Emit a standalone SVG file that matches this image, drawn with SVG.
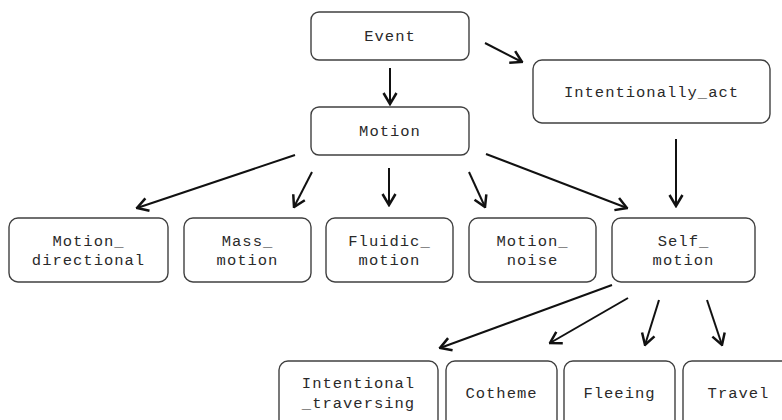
<svg xmlns="http://www.w3.org/2000/svg" width="782" height="420" viewBox="0 0 782 420">
  <defs>
    <style>
      .box { fill: #ffffff; stroke: #404040; stroke-width: 1.4; }
      .lbl { font-family: "Liberation Mono", "Courier New", monospace; font-size: 15.5px; letter-spacing: 1px; fill: #2a2a2a; text-anchor: middle; }
      .edge { fill: none; stroke: #111; stroke-width: 2; marker-end: url(#arrow); }
    </style>
    <marker id="arrow" viewBox="0 0 14 16" refX="12.5" refY="8" markerWidth="14" markerHeight="16" markerUnits="userSpaceOnUse" orient="auto">
      <path d="M1.5,1.5 L12.5,8 L1.5,14.5" fill="none" stroke="#111" stroke-width="2.5" stroke-linejoin="miter"/>
    </marker>
  </defs>
  <rect width="782" height="420" fill="#ffffff"/>

  <!-- connectors -->
  <g id="edges">
    <line class="edge" x1="390" y1="68" x2="390" y2="104"/>
    <line class="edge" x1="485" y1="43" x2="522" y2="62"/>
    <line class="edge" x1="676" y1="139" x2="676" y2="206"/>
    <line class="edge" x1="295" y1="155" x2="137" y2="208"/>
    <line class="edge" x1="312" y1="172" x2="294" y2="207"/>
    <line class="edge" x1="389" y1="168" x2="389" y2="205"/>
    <line class="edge" x1="469" y1="172" x2="485" y2="207"/>
    <line class="edge" x1="486" y1="154" x2="627" y2="208"/>
    <line class="edge" x1="612" y1="285" x2="440" y2="348"/>
    <line class="edge" x1="628" y1="298" x2="550" y2="343"/>
    <line class="edge" x1="659" y1="300" x2="645" y2="345"/>
    <line class="edge" x1="707" y1="300" x2="722" y2="345"/>
  </g>

  <!-- nodes -->
  <g id="event">
    <rect class="box" x="311" y="12" width="158" height="48" rx="8"/>
    <text class="lbl" x="390" y="41">Event</text>
  </g>
  <g id="intentionally_act">
    <rect class="box" x="533" y="60" width="237" height="63" rx="9"/>
    <text class="lbl" x="651.5" y="97">Intentionally_act</text>
  </g>
  <g id="motion">
    <rect class="box" x="311" y="107" width="158" height="48" rx="8"/>
    <text class="lbl" x="390" y="136">Motion</text>
  </g>
  <g id="motion_directional">
    <rect class="box" x="9" y="218" width="159" height="64" rx="9"/>
    <text class="lbl" x="88.5" y="246">Motion_</text>
    <text class="lbl" x="88.5" y="265">directional</text>
  </g>
  <g id="mass_motion">
    <rect class="box" x="184" y="218" width="127" height="64" rx="9"/>
    <text class="lbl" x="247.5" y="246">Mass_</text>
    <text class="lbl" x="247.5" y="265">motion</text>
  </g>
  <g id="fluidic_motion">
    <rect class="box" x="326" y="218" width="127" height="64" rx="9"/>
    <text class="lbl" x="389.5" y="246">Fluidic_</text>
    <text class="lbl" x="389.5" y="265">motion</text>
  </g>
  <g id="motion_noise">
    <rect class="box" x="469" y="218" width="127" height="64" rx="9"/>
    <text class="lbl" x="532.5" y="246">Motion_</text>
    <text class="lbl" x="532.5" y="265">noise</text>
  </g>
  <g id="self_motion">
    <rect class="box" x="612" y="218" width="143" height="64" rx="9"/>
    <text class="lbl" x="683.5" y="246">Self_</text>
    <text class="lbl" x="683.5" y="265">motion</text>
  </g>
  <g id="intentional_traversing">
    <rect class="box" x="279" y="361" width="159" height="70" rx="9"/>
    <text class="lbl" x="358.5" y="388">Intentional</text>
    <text class="lbl" x="358.5" y="408">_traversing</text>
  </g>
  <g id="cotheme">
    <rect class="box" x="446" y="361" width="111" height="70" rx="9"/>
    <text class="lbl" x="501.5" y="398">Cotheme</text>
  </g>
  <g id="fleeing">
    <rect class="box" x="564" y="361" width="111" height="70" rx="9"/>
    <text class="lbl" x="619.5" y="398">Fleeing</text>
  </g>
  <g id="travel">
    <rect class="box" x="683" y="361" width="111" height="70" rx="9"/>
    <text class="lbl" x="738.5" y="398">Travel</text>
  </g>
</svg>
